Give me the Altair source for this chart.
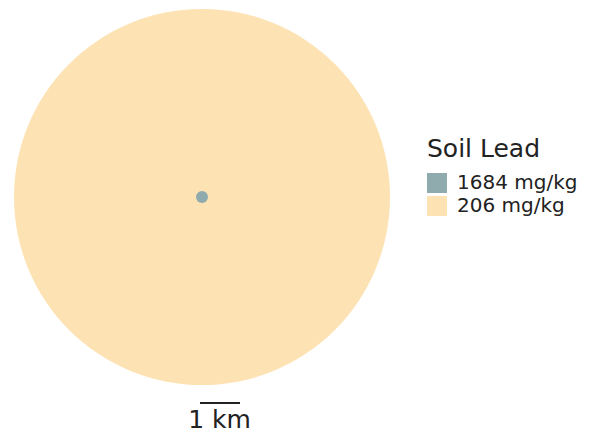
import altair as alt
import pandas as pd
import math

# data
levels = ["1684 mg/kg", "206 mg/kg"]
radius_km = [0.15, 4.7]
colors = ["#8fabae", "#fde2b3"]
scale_bar_km = [1]

PX_PER_KM = 40
W, H = 583, 426
FONT = "DejaVu Sans"

df = pd.DataFrame({"level": levels, "radius_km": radius_km})
df["area_km2"] = [math.pi * r * r for r in df["radius_km"]]

color = alt.Color(
    "level:N",
    scale=alt.Scale(domain=levels, range=colors),
    legend=alt.Legend(
        title="Soil Lead",
        orient="none",
        legendX=419,
        legendY=129,
        padding=0,
        titleFontSize=25,
        titleFontWeight="normal",
        titleFont=FONT,
        titleColor="#222222",
        titlePadding=11,
        labelFontSize=20,
        labelFont=FONT,
        labelColor="#222222",
        symbolType="square",
        symbolSize=400,
        symbolStrokeWidth=0,
        symbolOpacity=1,
        rowPadding=3,
        labelOffset=10,
    ),
)

# Vega circle symbol: size = (diameter)^2 -> area scaled by 4/pi
circles = alt.Chart(df).mark_circle(opacity=1).encode(
    x=alt.value(194),
    y=alt.value(189),
    size=alt.Size("area_km2:Q",
                  scale=alt.Scale(type="linear", domain=[0, 1],
                                  range=[0, PX_PER_KM ** 2 * 4 / math.pi]),
                  legend=None),
    color=color,
    order=alt.Order("area_km2:Q", sort="descending"),
)

xscale = alt.Scale(domain=[0, W / PX_PER_KM], nice=False, zero=True)
bar_df = pd.DataFrame({"start": [4.8], "end": [4.8 + scale_bar_km[0]],
                       "label": [f"{scale_bar_km[0]} km"]})

rule = alt.Chart(bar_df).mark_rule(color="#222222", strokeWidth=2).encode(
    x=alt.X("start:Q", scale=xscale, axis=None),
    x2="end:Q",
    y=alt.value(395),
)

label = alt.Chart(bar_df).mark_text(
    font=FONT, fontSize=25, color="#222222", baseline="alphabetic", align="center"
).encode(
    x=alt.value(211.5),
    y=alt.value(420),
    text="label:N",
)

chart = alt.layer(circles, rule, label).properties(
    width=W, height=H, padding=0, autosize="none"
).configure_view(stroke=None)

chart.save("out.html", embed_options={"renderer": "svg", "actions": False})
